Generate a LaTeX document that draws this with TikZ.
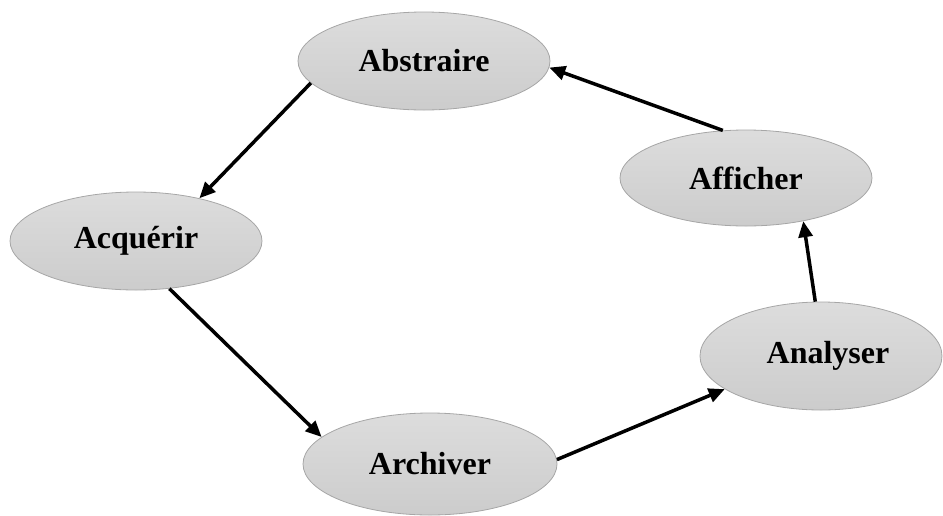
\documentclass[tikz,border=0pt]{standalone}
\usepackage{fontspec}
\setmainfont{Liberation Serif}
\usetikzlibrary{shapes.geometric,arrows.meta}
\begin{document}
\begin{tikzpicture}[x=1pt,y=-1pt,
  stage/.style={ellipse, draw=gray!70, line width=0.8pt,
    top color=gray!27, bottom color=gray!40,
    inner sep=0pt, font=\fontsize{32}{38}\selectfont\bfseries},
  flow/.style={line width=3.5pt, -{Triangle[length=16pt,width=14pt]}}]
  \useasboundingbox (0,0) rectangle (943,515);
  \node[stage, minimum width=252pt, minimum height=98pt] (abs) at (424,61) {Abstraire};
  \node[stage, minimum width=252pt, minimum height=98pt] (acq) at (136,241) {Acquérir};
  \node[stage, minimum width=252pt, minimum height=96pt] (aff) at (746,178) {Afficher};
  \node[stage, minimum width=242pt, minimum height=108pt] (ana) at (821,356) {\hspace*{14pt}Analyser};
  \node[stage, minimum width=254pt, minimum height=102pt] (arc) at (430,464) {Archiver};
  \draw[flow] (abs.191) -- (acq.34);
  \draw[flow] (acq.305) -- (arc.166);
  \draw[flow] (arc.2) -- (ana.199);
  \draw[flow] (ana.96) -- (aff.323);
  \draw[flow] (aff.116) -- (abs.357);
\end{tikzpicture}
\end{document}
